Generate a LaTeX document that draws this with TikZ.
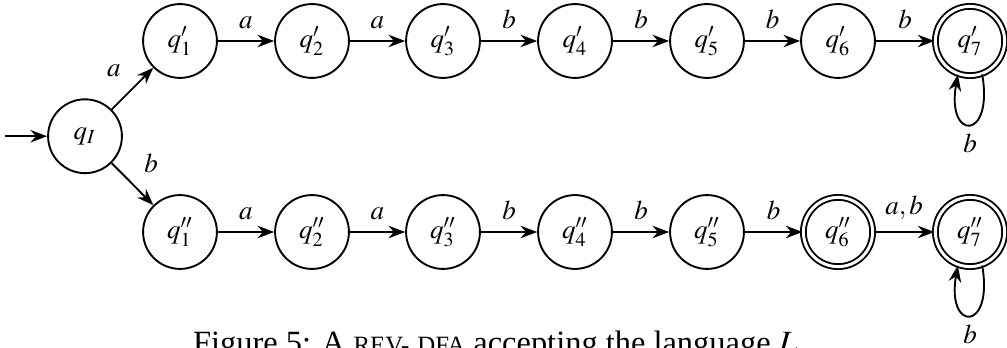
\documentclass[tikz,border=0pt]{standalone}
\usepackage{mathptmx}
\usepackage{fontspec}
\setmainfont{Liberation Serif}
\usetikzlibrary{arrows.meta, positioning}
\newcommand{\fakesc}[1]{{\fontsize{9.2pt}{11pt}\selectfont #1}}
\tikzset{
    % Node styles
    statenode/.style={
        circle,
        draw=black,
        line width=0.7pt,
        minimum size=0.96cm,
        inner sep=0pt
    },
    acceptnode/.style={
        statenode,
        double,
        double distance=1.1pt,
        minimum size=0.9cm
    },
    % Arrow styles
    trans/.style={
        ->,
        >=Stealth,
        line width=0.7pt,
        black
    },
    lbl/.style={
        inner sep=4pt
    }
}
\begin{document}
\begin{tikzpicture}
            \useasboundingbox (0,0) rectangle (13.091,4.511);
            \clip (0,0) rectangle (13.091,4.511);

            % Initial state
            \coordinate (start) at (0.065,2.74);
            \node[statenode] (qi) at (1.105,2.74) {$q_I$};

            % Upper branch
            \node[statenode] (p1) at (2.34,3.978) {$q'_1$};
            \node[statenode] (p2) at (4.056,3.978) {$q'_2$};
            \node[statenode] (p3) at (5.759,3.978) {$q'_3$};
            \node[statenode] (p4) at (7.475,3.978) {$q'_4$};
            \node[statenode] (p5) at (9.191,3.978) {$q'_5$};
            \node[statenode] (p6) at (10.894,3.978) {$q'_6$};
            \node[acceptnode] (p7) at (12.61,3.978) {$q'_7$};

            % Lower branch
            \node[statenode] (r1) at (2.34,1.495) {$q''_1$};
            \node[statenode] (r2) at (4.056,1.495) {$q''_2$};
            \node[statenode] (r3) at (5.759,1.495) {$q''_3$};
            \node[statenode] (r4) at (7.475,1.495) {$q''_4$};
            \node[statenode] (r5) at (9.191,1.495) {$q''_5$};
            \node[acceptnode] (r6) at (10.894,1.495) {$q''_6$};
            \node[acceptnode] (r7) at (12.61,1.495) {$q''_7$};

            % Transitions
            \draw[trans] (start) -- (qi);
            \draw[trans] (qi) -- node[lbl,above left] {$a$} (p1);
            \draw[trans] (qi) -- node[lbl,above right] {$b$} (r1);

            \draw[trans] (p1) -- node[lbl,above] {$a$} (p2);
            \draw[trans] (p2) -- node[lbl,above] {$a$} (p3);
            \draw[trans] (p3) -- node[lbl,above] {$b$} (p4);
            \draw[trans] (p4) -- node[lbl,above] {$b$} (p5);
            \draw[trans] (p5) -- node[lbl,above] {$b$} (p6);
            \draw[trans] (p6) -- node[lbl,above] {$b$} (p7);
            \draw[trans] (p7.-70) .. controls +(-80:0.88cm) and +(-100:0.88cm) .. node[below] {$b$} (p7.-110);

            \draw[trans] (r1) -- node[lbl,above] {$a$} (r2);
            \draw[trans] (r2) -- node[lbl,above] {$a$} (r3);
            \draw[trans] (r3) -- node[lbl,above] {$b$} (r4);
            \draw[trans] (r4) -- node[lbl,above] {$b$} (r5);
            \draw[trans] (r5) -- node[lbl,above] {$b$} (r6);
            \draw[trans] (r6) -- node[lbl,above] {$a,b$} (r7);
            \draw[trans] (r7.-70) .. controls +(-80:0.88cm) and +(-100:0.88cm) .. node[below] {$b$} (r7.-110);

            % Caption (cut off at the bottom)
            \node[anchor=base,font=\fontsize{12pt}{14pt}\selectfont] (cap) at (6.435,-0.09)
                {Figure 5: A \fakesc{REV-} \fakesc{DFA} accepting the language $L$};
        \end{tikzpicture}
\end{document}
